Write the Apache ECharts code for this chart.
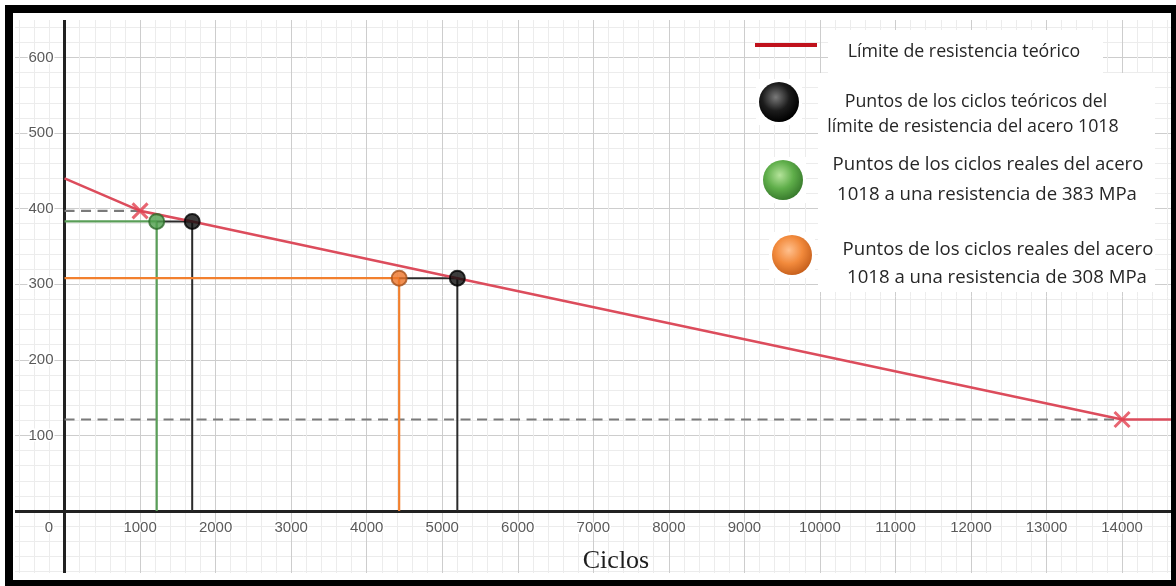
<!DOCTYPE html>
<html>
<head>
<meta charset="utf-8">
<script src="https://cdn.jsdelivr.net/npm/echarts@6/dist/echarts.min.js"></script>
<style>
  html, body { margin: 0; padding: 0; background: #fff; }
  #page { position: relative; width: 1176px; height: 586px; overflow: hidden; background: #fff; }
  #frame { position: absolute; left: 5px; top: 5px; width: 1174px; height: 583px;
           border: 8px solid #000; box-sizing: border-box; pointer-events: none; }
  #chart { position: absolute; left: 15px; top: 20px; width: 1156px; height: 553px; }
</style>
</head>
<body>
<div id="page">
  <div id="chart"></div>
  <div id="frame"></div>
</div>
<script>
// S-N diagram of 1018 steel: stress (MPa) against number of cycles.
const limitCurve        = [[0, 440], [1000, 397], [1690, 383], [5200, 308], [14000, 121], [14700, 121]];
const limitKnees        = [[1000, 397], [14000, 121]];
const theoreticalPoints = [[1690, 383], [5200, 308]];
const realPoints383     = [[1220, 383]];
const realPoints308     = [[4430, 308]];

const xAxisTitle = 'Ciclos';
const legendLine = 'Límite de resistencia teórico';
const legendBlack = ['Puntos de los ciclos teóricos del', 'límite de resistencia del acero 1018'];
const legendGreen = ['Puntos de los ciclos reales del acero', '1018 a una resistencia de 383 MPa'];
const legendOrange = ['Puntos de los ciclos reales del acero', '1018 a una resistencia de 308 MPa'];

const RED = '#dc4c5c';
const GREEN = '#5a9e58';
const ORANGE = '#f2802e';
const DARK = '#2b2b2b';

function path(data, color, width, type, z) {
  return {
    type: 'line', data: data, symbol: 'none', silent: true, animation: false, z: z,
    lineStyle: { color: color, width: width, type: type || 'solid' }
  };
}

const series = [];
// dashed guides from the y axis to each knee of the limit curve
limitKnees.forEach(function (p) {
  series.push(path([[0, p[1]], [p[0], p[1]]], '#7a7a7a', 2.2, [10, 6.5], 2));
});
// real-cycle guides (horizontal from the axis, then down to the cycle count)
[[realPoints383, GREEN], [realPoints308, ORANGE]].forEach(function (g, i) {
  const p = g[0][0];
  const t = theoreticalPoints[i];
  series.push(path([[0, p[1]], [p[0], p[1]], [p[0], 0]], g[1], 2.2, 'solid', 2));
  series.push(path([[p[0], t[1]], [t[0], t[1]], [t[0], 0]], DARK, 2, 'solid', 2));
});
// theoretical endurance-limit curve
series.push(path(limitCurve, RED, 2.6, 'solid', 3));
series.push({
  type: 'scatter', data: limitKnees, silent: true, animation: false, z: 4,
  symbol: 'path://M0,0L10,10M10,0L0,10', symbolSize: 15,
  itemStyle: { color: 'rgba(0,0,0,0)', borderColor: '#e2404f', borderWidth: 3 }
});
function dots(data, fill, border) {
  return {
    type: 'scatter', data: data, silent: true, animation: false, z: 5,
    symbol: 'circle', symbolSize: 15,
    itemStyle: { color: fill, borderColor: border, borderWidth: 2 }
  };
}
series.push(dots(realPoints383, '#4f9f4c', '#2f6b2c'));
series.push(dots(realPoints308, '#ee7428', '#a8531c'));
series.push(dots(theoreticalPoints, '#0d0d0d', '#000'));

// legend drawn as graphic elements (chart-local coordinates)
const LEG_FONT = '"Open Sans", "Noto Sans", sans-serif';
function sphere(cx, cy, c0, c1, c2) {
  return [
    { type: 'rect', shape: { x: cx - 23, y: cy - 23, width: 46, height: 46 }, style: { fill: '#fff' }, z: 10 },
    { type: 'circle', shape: { cx: cx, cy: cy, r: 20 }, z: 11,
      style: { fill: new echarts.graphic.RadialGradient(0.42, 0.38, 0.62, [
        { offset: 0, color: c0 }, { offset: 0.55, color: c1 }, { offset: 1, color: c2 }]) } }
  ];
}
function label(text, x, y, size) {
  return { type: 'text', x: x, y: y, z: 12,
    style: { text: text, fill: '#262626', fontSize: size, fontFamily: LEG_FONT, align: 'center', verticalAlign: 'middle' } };
}
const ox = 15, oy = 20;
const graphic = [
  { type: 'rect', shape: { x: 803, y: 53, width: 337, height: 219 }, style: { fill: '#fff' }, z: 10 },
  { type: 'rect', shape: { x: 813, y: 10, width: 275, height: 43 }, style: { fill: '#fff' }, z: 10 },
  { type: 'rect', shape: { x: 755 - ox, y: 43 - oy, width: 62, height: 4 }, style: { fill: '#c0121c' }, z: 11 },
  label(legendLine, 964 - ox, 52 - oy, 17.8),
  label(legendBlack[0], 976 - ox, 102 - oy, 17.8),
  label(legendBlack[1], 973 - ox, 127 - oy, 17.8),
  label(legendGreen[0], 988 - ox, 165 - oy, 18.6),
  label(legendGreen[1], 987 - ox, 195 - oy, 18.6),
  label(legendOrange[0], 998 - ox, 250 - oy, 18.6),
  label(legendOrange[1], 997 - ox, 278 - oy, 18.6),
  { type: 'text', x: 616 - ox, y: 561 - oy, z: 12,
    style: { text: xAxisTitle, fill: '#1e1e1e', fontSize: 26, fontFamily: '"Liberation Serif", "DejaVu Serif", serif',
             align: 'center', verticalAlign: 'middle' } }
].concat(sphere(779 - ox, 102 - oy, '#7a7a7a', '#1c1c1c', '#000'))
 .concat(sphere(783 - ox, 180 - oy, '#b4e39a', '#5fae4a', '#3a7d2e'))
 .concat(sphere(792 - ox, 255 - oy, '#ffc08e', '#f28a3c', '#c9621e'));

const axisFont = { color: '#5a5a5a', fontSize: 15, fontFamily: '"Liberation Sans", Arial, sans-serif',
                   textBorderColor: '#fff', textBorderWidth: 3 };

const X_MIN = -1000, X_MAX = 15000, Y_MIN = -100, Y_MAX = 700;

const chart = echarts.init(document.getElementById('chart'), null, { renderer: 'canvas' });
chart.setOption({
  animation: false,
  backgroundColor: 'transparent',
  grid: { left: -26, right: -26.6, top: -38.2, bottom: -13.6, containLabel: false, outerBoundsMode: 'none' },
  xAxis: {
    type: 'value', min: X_MIN, max: X_MAX, interval: 1000, position: 'bottom',
    axisLine: { onZero: false, lineStyle: { color: '#222', width: 3 } },
    axisTick: { show: false },
    minorTick: { show: false, splitNumber: 5 },
    splitLine: { show: true, lineStyle: { color: '#cdcdcd', width: 1 } },
    minorSplitLine: { show: true, lineStyle: { color: '#ececec', width: 1 } },
    axisLabel: Object.assign({}, axisFont, {
      margin: 9, interval: 0, hideOverlap: false,
      formatter: function (v) { return v < 0 ? '' : (v === 0 ? '{o|0}' : String(v)); },
      rich: { o: { padding: [0, 31, 0, 0] } }
    })
  },
  yAxis: {
    type: 'value', min: Y_MIN, max: Y_MAX, interval: 100, position: 'left',
    axisLine: { onZero: false, lineStyle: { color: '#222', width: 3 } },
    axisTick: { show: false },
    minorTick: { show: false, splitNumber: 5 },
    splitLine: { show: true, lineStyle: { color: '#cdcdcd', width: 1 } },
    minorSplitLine: { show: true, lineStyle: { color: '#ececec', width: 1 } },
    axisLabel: Object.assign({}, axisFont, {
      margin: 11, formatter: function (v) { return v <= 0 ? '' : String(v); }
    })
  },
  series: series,
  graphic: graphic
});

// move both axes (line and labels together) onto the origin
const origin = chart.convertToPixel({ gridIndex: 0 }, [0, 0]);
const corner = chart.convertToPixel({ gridIndex: 0 }, [X_MIN, Y_MIN]);
chart.setOption({
  xAxis: { offset: -(corner[1] - origin[1]) },
  yAxis: { offset: -(origin[0] - corner[0]) }
});
</script>
</body>
</html>
